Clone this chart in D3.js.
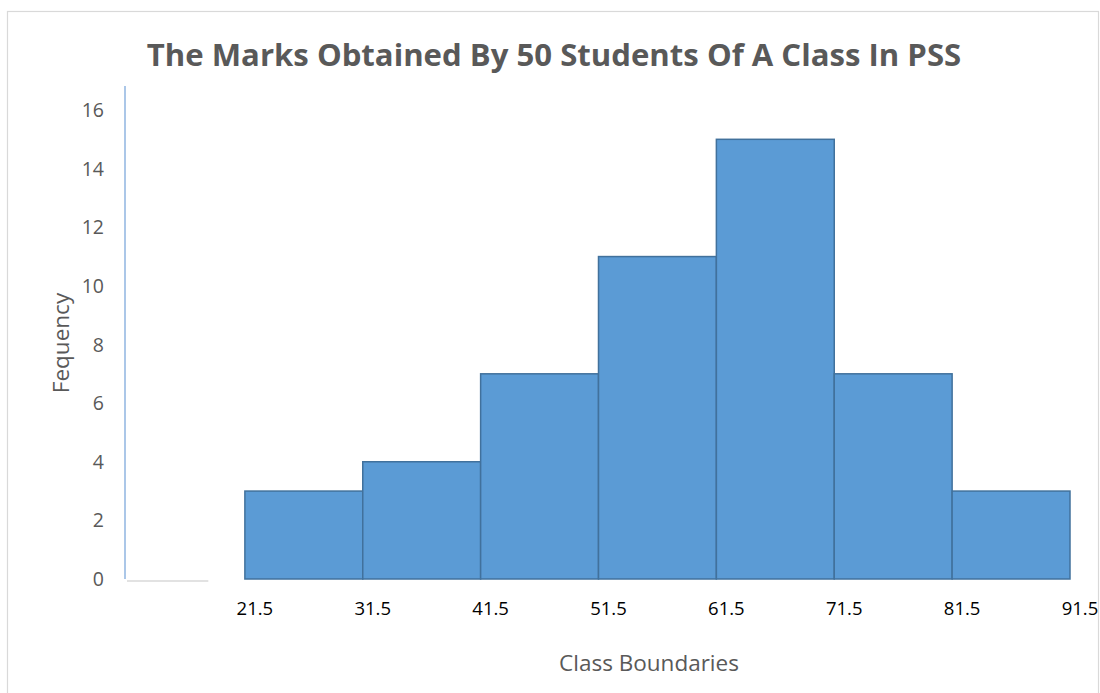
<!DOCTYPE html>
<html><head><meta charset="utf-8">
<script src="https://cdn.jsdelivr.net/npm/d3@7"></script>
<style>body{margin:0;background:#fff;} svg{display:block;}</style>
</head><body>
<svg id="c" width="1100" height="693"></svg>
<script>
const boundaries = [11.5, 21.5, 31.5, 41.5, 51.5, 61.5, 71.5, 81.5, 91.5];
const frequencies = [0, 3, 4, 7, 11, 15, 7, 3];
const tickLabels = ["21.5", "31.5", "41.5", "51.5", "61.5", "71.5", "81.5", "91.5"];
const yTicks = [0, 2, 4, 6, 8, 10, 12, 14, 16];
const title = "The Marks Obtained By 50 Students Of A Class In PSS";

const svg = d3.select("#c");
const font = "'Open Sans', 'Liberation Sans', sans-serif";

svg.append("rect").attr("x", 7.5).attr("y", 11.5).attr("width", 1091).attr("height", 700)
  .attr("fill", "#fff").attr("stroke", "#d9d9d9").attr("stroke-width", 1.2);

const x = d3.scaleLinear().domain([11.5, 91.5]).range([127, 1070]);
const y = d3.scaleLinear().domain([0, 16]).range([579, 110]);

const bins = frequencies.map((f, i) => ({x0: boundaries[i], x1: boundaries[i + 1], f}));

// partial horizontal axis line under empty first class
svg.append("line").attr("x1", x(boundaries[0])).attr("x2", x(boundaries[0]) + 0.69 * (x(boundaries[1]) - x(boundaries[0])))
  .attr("y1", 581).attr("y2", 581).attr("stroke", "#d9d9d9").attr("stroke-width", 1.5);

svg.selectAll("rect.bar").data(bins.filter(d => d.f > 0)).join("rect")
  .attr("class", "bar")
  .attr("x", d => x(d.x0)).attr("width", d => x(d.x1) - x(d.x0))
  .attr("y", d => y(d.f)).attr("height", d => y(0) - y(d.f))
  .attr("fill", "#5b9bd5").attr("stroke", "#41719c").attr("stroke-width", 1.5);

// y axis line
svg.append("line").attr("x1", 125).attr("x2", 125).attr("y1", 86).attr("y2", y(0))
  .attr("stroke", "#8fb4e0").attr("stroke-width", 1.5);

// y tick labels
svg.selectAll("text.yt").data(yTicks).join("text").attr("class", "yt")
  .attr("x", 104).attr("y", d => y(d)).attr("dy", "0.36em")
  .attr("text-anchor", "end").attr("font-family", font).attr("font-size", 19.5)
  .attr("fill", "#595959").text(d => d);

// x tick labels
svg.selectAll("text.xt").data(tickLabels).join("text").attr("class", "xt")
  .attr("x", d => x(+d) + 10).attr("y", 615)
  .attr("text-anchor", "middle").attr("font-family", font).attr("font-size", 18.5)
  .attr("fill", "#000").text(d => d);

// title
const t = svg.append("text").attr("x", 554).attr("y", 66).attr("text-anchor", "middle")
  .attr("font-family", font).attr("font-weight", "bold").attr("font-size", 30)
  .attr("fill", "#595959").text(title);
const tw = t.node().getComputedTextLength();
t.attr("font-size", 30 * 815 / tw);

// axis titles
svg.append("text").attr("transform", "translate(69,343) rotate(-90)").attr("text-anchor", "middle")
  .attr("font-family", font).attr("font-size", 22.5).attr("fill", "#595959").text("Fequency");
svg.append("text").attr("x", 649).attr("y", 671).attr("text-anchor", "middle")
  .attr("font-family", font).attr("font-size", 22.5).attr("fill", "#595959").text("Class Boundaries");
</script>
</body></html>
